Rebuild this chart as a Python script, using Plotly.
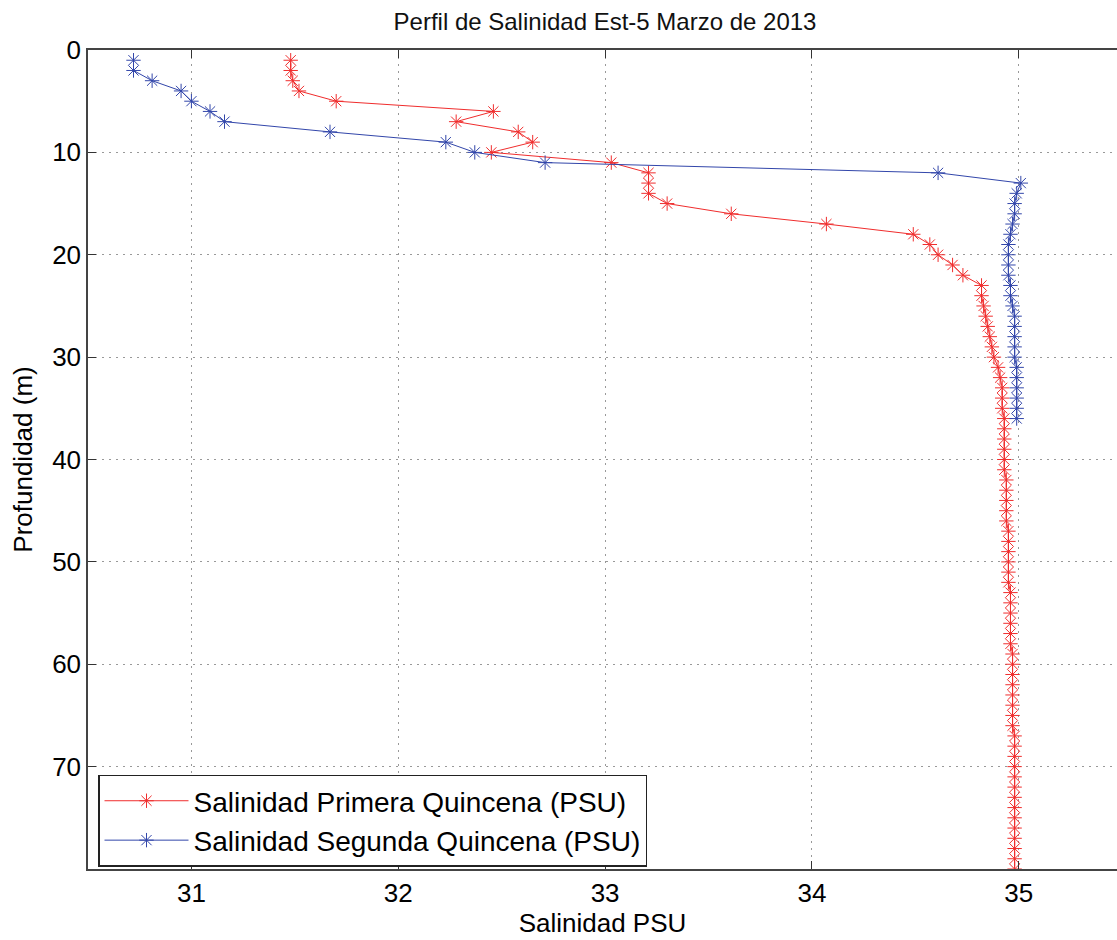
import plotly.graph_objects as go

# Primera Quincena (red) — depth (m) and salinity (PSU)
depth_primera = [1, 2, 3, 4, 5, 6, 7, 8, 9, 10,
                 11, 12, 13, 14, 15, 16, 17, 18, 19, 20,
                 21, 22, 23, 24, 25, 26, 27, 28, 29, 30,
                 31, 32, 33, 34, 35, 36, 37, 38, 39, 40,
                 41, 42, 43, 44, 45, 46, 47, 48, 49, 50,
                 51, 52, 53, 54, 55, 56, 57, 58, 59, 60,
                 61, 62, 63, 64, 65, 66, 67, 68, 69, 70,
                 71, 72, 73, 74, 75, 76, 77, 78, 79, 80]
sal_primera = [31.48, 31.48, 31.49, 31.52, 31.70, 32.46, 32.28, 32.58, 32.65, 32.45,
               33.03, 33.21, 33.21, 33.21, 33.30, 33.61, 34.07, 34.49, 34.57, 34.61,
               34.68, 34.73, 34.82, 34.82, 34.83, 34.84, 34.85, 34.86, 34.87, 34.88,
               34.90, 34.91, 34.92, 34.92, 34.92, 34.93, 34.93, 34.93, 34.93, 34.93,
               34.93, 34.94, 34.94, 34.94, 34.94, 34.94, 34.95, 34.95, 34.95, 34.95,
               34.95, 34.95, 34.96, 34.96, 34.96, 34.96, 34.96, 34.96, 34.97, 34.97,
               34.97, 34.97, 34.97, 34.97, 34.97, 34.97, 34.98, 34.98, 34.98, 34.98,
               34.98, 34.98, 34.98, 34.98, 34.98, 34.98, 34.98, 34.98, 34.98, 34.98]

# Segunda Quincena (blue)
depth_segunda = [1, 2, 3, 4, 5, 6, 7, 8, 9, 10,
                 11, 12, 13, 14, 15, 16, 17, 18, 19, 20,
                 21, 22, 23, 24, 25, 26, 27, 28, 29, 30,
                 31, 32, 33, 34, 35, 36]
sal_segunda = [30.72, 30.72, 30.81, 30.95, 31.00, 31.09, 31.16, 31.67, 32.23, 32.37,
               32.71, 34.61, 35.01, 34.99, 34.98, 34.98, 34.97, 34.96, 34.95, 34.95,
               34.95, 34.95, 34.96, 34.96, 34.97, 34.98, 34.98, 34.98, 34.98, 34.98,
               34.99, 34.99, 34.99, 34.99, 34.99, 34.99]

x_ticks = [31, 32, 33, 34, 35]
y_ticks = [0, 10, 20, 30, 40, 50, 60, 70]

title_text = "Perfil de Salinidad Est-5 Marzo de 2013"
x_title = "Salinidad PSU"
y_title = "Profundidad (m)"
name_primera = "Salinidad Primera Quincena (PSU)"
name_segunda = "Salinidad Segunda Quincena (PSU)"

RED = "rgb(240,45,45)"
BLUE = "rgb(50,70,170)"
FONT = "Liberation Sans, Arial, sans-serif"
GRID_DASH = "2px,5px"

fig = go.Figure()
fig.add_trace(go.Scatter(
    x=sal_primera, y=depth_primera, mode="lines+markers", name=name_primera,
    line=dict(color=RED, width=1),
    marker=dict(symbol="asterisk-open", size=12, color=RED, line=dict(color=RED, width=1)),
))
fig.add_trace(go.Scatter(
    x=sal_segunda, y=depth_segunda, mode="lines+markers", name=name_segunda,
    line=dict(color=BLUE, width=1),
    marker=dict(symbol="asterisk-open", size=12, color=BLUE, line=dict(color=BLUE, width=1)),
))
# invisible trace to drive top axis ticks
fig.add_trace(go.Scatter(x=[31, 35], y=[0, 0], xaxis="x2", mode="markers",
                         marker=dict(opacity=0), showlegend=False, hoverinfo="skip"))

fig.update_layout(
    width=1117, height=940,
    margin=dict(l=88, r=0, t=50, b=71, autoexpand=False),
    paper_bgcolor="white", plot_bgcolor="white",
    font=dict(family=FONT, size=26, color="black"),
    title=dict(text=title_text, x=605 / 1117, xanchor="center", xref="container",
               y=1 - 22 / 940, yanchor="middle", yref="container",
               font=dict(size=24, color="#111"), automargin=False),
    xaxis=dict(range=[30.5, 35.475], tickvals=x_ticks, ticks="inside", ticklen=8,
               tickcolor="#333", showline=True, linecolor="#444", linewidth=1.5,
               showgrid=True, gridcolor="#999", griddash=GRID_DASH, gridwidth=1,
               zeroline=False, tickfont=dict(size=26), automargin=False,
               title=dict(text=x_title, standoff=6, font=dict(size=26))),
    xaxis2=dict(range=[30.5, 35.475], overlaying="x", side="top", tickvals=x_ticks,
                ticks="inside", ticklen=8, tickcolor="#333", showline=True,
                linecolor="#444", linewidth=1.5, showticklabels=False, showgrid=False,
                zeroline=False, automargin=False),
    yaxis=dict(range=[80, 0], tickvals=y_ticks, ticks="inside", ticklen=8,
               tickcolor="#333", showline=True, linecolor="#444", linewidth=1.5,
               showgrid=True, gridcolor="#999", griddash=GRID_DASH, gridwidth=1,
               zeroline=False, tickfont=dict(size=26), automargin=False,
               title=dict(text=y_title, standoff=12, font=dict(size=26))),
    legend=dict(x=10 / 1029, y=0.003, xanchor="left", yanchor="bottom",
                bgcolor="white", bordercolor="#222", borderwidth=1.5,
                font=dict(size=28), itemwidth=84, tracegroupgap=0),
    showlegend=True,
)

fig.write_html("out.html", config={"displayModeBar": False},
               post_script="document.body.style.margin='0';document.body.style.overflow='hidden';")
